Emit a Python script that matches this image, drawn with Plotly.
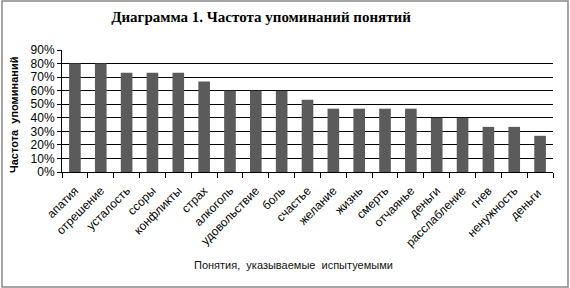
import plotly.graph_objects as go

categories = ["апатия", "отрешение", "усталость", "ссоры", "конфликты", "страх", "алкоголь",
              "удовольствие", "боль", "счастье", "желание", "жизнь", "смерть", "отчаянье",
              "деньги", "расслабление", "гнев", "ненужность", "деньги "]
values = [0.80, 0.80, 0.733, 0.733, 0.733, 0.667, 0.60, 0.60, 0.60, 0.533, 0.467, 0.467,
          0.467, 0.467, 0.40, 0.40, 0.333, 0.333, 0.267]
y_ticks = [0, 0.1, 0.2, 0.3, 0.4, 0.5, 0.6, 0.7, 0.8, 0.9]

W, H = 570, 288
L, R, T, B = 62, 17, 50, 116
pw, ph = W - L - R, H - T - B

def px_x(x):
    return (x - L) / pw

def px_y(y):
    return (H - B - y) / ph

fig = go.Figure()
fig.add_trace(go.Bar(x=categories, y=values, marker=dict(color="#5b5b5b", line=dict(width=0)),
                     width=0.45, hoverinfo="skip"))

fig.update_layout(
    width=W, height=H,
    margin=dict(l=L, r=R, t=T, b=B, autoexpand=False),
    paper_bgcolor="white", plot_bgcolor="white",
    showlegend=False,
    font=dict(family="Liberation Sans, Arial, sans-serif", size=11, color="black"),
    title=dict(text="<b>Диаграмма 1. Частота упоминаний понятий</b>",
               x=px_x(261), xanchor="center", xref="paper", y=1 - 17 / H, yanchor="middle",
               font=dict(family="Liberation Serif, Times New Roman, serif", size=15, color="black")),
    bargap=0.55,
)
fig.update_xaxes(type="category", tickangle=-45, tickson="boundaries", ticks="outside",
                 ticklen=5, tickcolor="black", showline=True, linecolor="black", linewidth=1,
                 showgrid=False, tickfont=dict(size=12), automargin=False, ticklabelstandoff=6,
                 range=[-0.5, len(categories) - 0.5])
fig.update_yaxes(range=[0, 0.9], tickvals=y_ticks, tickformat=".0%", ticks="outside",
                 ticklen=4, tickcolor="black", showline=True, linecolor="black", linewidth=1,
                 showgrid=True, gridcolor="black", gridwidth=1, zeroline=False,
                 tickfont=dict(size=12), automargin=False)

fig.add_annotation(text="<b>Частота  упоминаний</b>", textangle=-90, xref="paper", yref="paper",
                   x=px_x(14), y=px_y(115), showarrow=False, xanchor="center", yanchor="middle",
                   font=dict(size=11))
fig.add_annotation(text="Понятия,  указываемые  испытуемыми", xref="paper", yref="paper",
                   x=px_x(293), y=px_y(265), showarrow=False, xanchor="center", yanchor="middle",
                   font=dict(size=11, color="#111111"))

fig.add_shape(type="rect", xref="paper", yref="paper",
              x0=px_x(2), x1=px_x(568), y0=px_y(287), y1=px_y(1),
              line=dict(color="#888888", width=1.5), fillcolor="rgba(0,0,0,0)", layer="below")

fig.write_html("out.html", config={"displayModeBar": False},
               post_script="document.body.style.margin='0';document.body.style.overflow='hidden';")
